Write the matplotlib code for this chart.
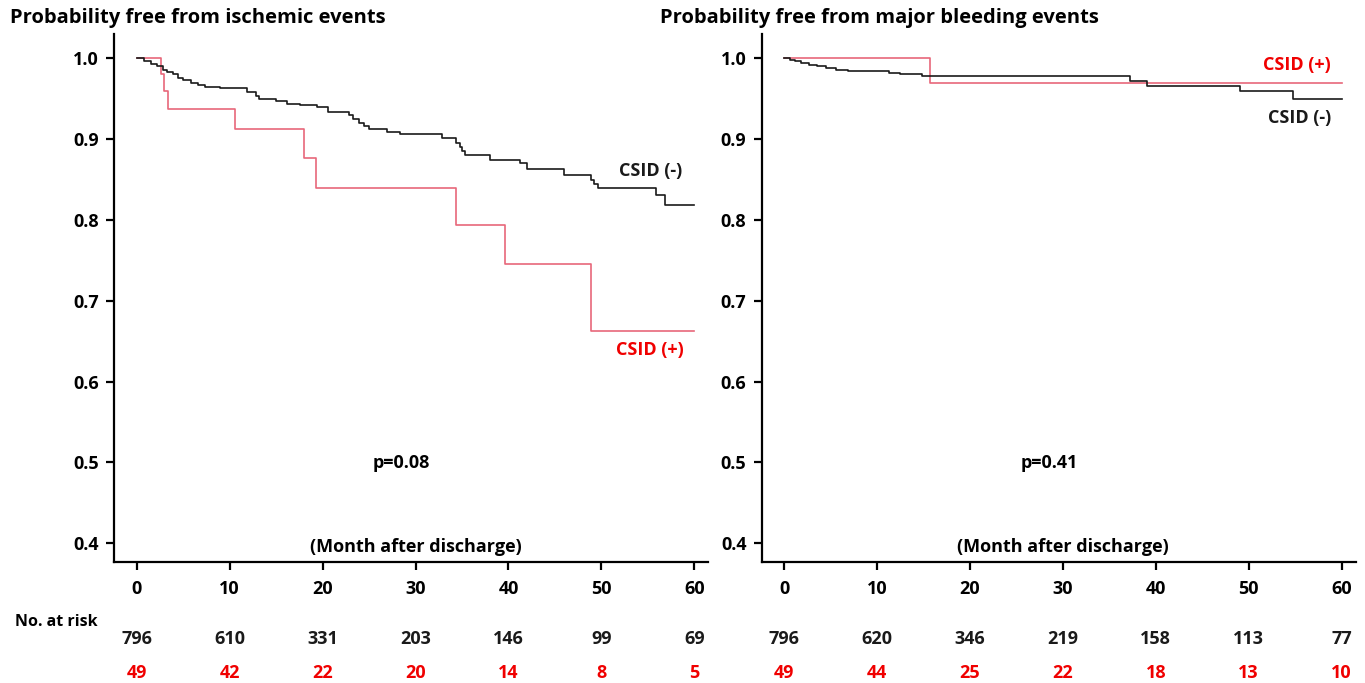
import matplotlib
matplotlib.use("Agg")
import matplotlib.pyplot as plt
from matplotlib.transforms import blended_transform_factory

plt.rcParams['font.family'] = ['Open Sans', 'DejaVu Sans']
plt.rcParams['font.weight'] = 'bold'

# ---------------- data ----------------
isch_neg_t = [0, 0.8, 1.5, 2.2, 2.8, 3.3, 3.9, 4.4, 5.0, 5.8, 6.6, 7.3, 9.0, 11.9, 12.8, 13.2,
              15.0, 16.2, 17.6, 19.4, 20.6, 22.8, 23.3, 23.9, 24.5, 25.0, 26.9, 28.3, 32.8,
              34.4, 34.8, 35.0, 35.3, 38.0, 41.2, 42.0, 46.0, 48.9, 49.2, 49.6, 55.9, 56.8, 60]
isch_neg_s = [1.0, 0.997, 0.993, 0.990, 0.986, 0.983, 0.980, 0.976, 0.973, 0.970, 0.967, 0.964, 0.963,
              0.958, 0.953, 0.950, 0.947, 0.944, 0.942, 0.940, 0.934, 0.930, 0.925, 0.920, 0.916,
              0.913, 0.909, 0.906, 0.901, 0.895, 0.890, 0.885, 0.880, 0.874, 0.870, 0.863, 0.855,
              0.849, 0.844, 0.839, 0.831, 0.819, 0.819]
isch_pos_t = [0, 2.6, 2.9, 3.4, 10.6, 18.0, 19.3, 34.4, 39.6, 48.9, 60]
isch_pos_s = [1.0, 0.980, 0.959, 0.937, 0.913, 0.877, 0.839, 0.794, 0.745, 0.662, 0.662]

bleed_neg_t = [0, 0.6, 1.2, 1.8, 2.7, 3.5, 4.5, 5.6, 6.9, 11.3, 12.5, 14.8, 37.2, 39.1, 49.1, 54.8, 60]
bleed_neg_s = [1.0, 0.998, 0.996, 0.994, 0.992, 0.990, 0.988, 0.986, 0.984, 0.982, 0.980, 0.978,
               0.972, 0.966, 0.960, 0.950, 0.950]
bleed_pos_t = [0, 15.75, 60]
bleed_pos_s = [1.0, 0.969, 0.969]

risk_months = [0, 10, 20, 30, 40, 50, 60]
isch_risk_neg = [796, 610, 331, 203, 146, 99, 69]
isch_risk_pos = [49, 42, 22, 20, 14, 8, 5]
bleed_risk_neg = [796, 620, 346, 219, 158, 113, 77]
bleed_risk_pos = [49, 44, 25, 22, 18, 13, 10]

titles = ["Probability free from ischemic events", "Probability free from major bleeding events"]
p_values = ["p=0.08", "p=0.41"]
yticks = [0.4, 0.5, 0.6, 0.7, 0.8, 0.9, 1.0]

# ---------------- layout ----------------
W, H = 1365, 683
fig = plt.figure(figsize=(W / 100, H / 100), dpi=100)

RED_LINE = '#E8677A'
RED_TXT = '#F00000'
BLACK = '#1a1a1a'
FS = 13.0

def px_axes(x0, x1, ytop, ybot):
    return fig.add_axes([x0 / W, 1 - ybot / H, (x1 - x0) / W, (ybot - ytop) / H])

axL = px_axes(114, 708, 34, 562.3)
axR = px_axes(761.7, 1356, 34, 562.3)

panels = [
    (axL, isch_neg_t, isch_neg_s, isch_pos_t, isch_pos_s, isch_risk_neg, isch_risk_pos,
     (-2.44, 61.47), [(55.25, 0.8606, "CSID (-)", BLACK), (55.25, 0.639, "CSID (+)", RED_TXT)], 10),
    (axR, bleed_neg_t, bleed_neg_s, bleed_pos_t, bleed_pos_s, bleed_risk_neg, bleed_risk_pos,
     (-2.40, 61.54), [(55.2, 0.9917, "CSID (+)", RED_TXT), (55.5, 0.926, "CSID (-)", BLACK)], 660),
]

for i, (ax, nt, ns, pt, ps, rn, rp, xl, labels, tx) in enumerate(panels):
    ax.step(nt, ns, where='post', color=BLACK, lw=1.2, zorder=3)
    ax.step(pt, ps, where='post', color=RED_LINE, lw=1.2, zorder=2)
    ax.set_xlim(*xl)
    ax.set_ylim(0.3765, 1.030)
    ax.set_xticks(risk_months)
    ax.set_yticks(yticks)
    ax.set_yticklabels([f"{v:.1f}" for v in yticks])
    for s in ['top', 'right']:
        ax.spines[s].set_visible(False)
    for s in ['left', 'bottom']:
        ax.spines[s].set_linewidth(1.6)
    ax.tick_params(axis='both', length=6, width=1.6, labelsize=FS, pad=5)
    ax.tick_params(axis='x', pad=7)
    for lab in ax.get_xticklabels() + ax.get_yticklabels():
        lab.set_fontweight('bold')
    for (x, y, s, c) in labels:
        ax.text(x, y, s, color=c, ha='center', va='center', fontsize=FS, fontweight='bold')
    ax.text(28.5, 0.4993, p_values[i], ha='center', va='center', fontsize=FS, fontweight='bold')
    ax.text(30.0, 0.3954, "(Month after discharge)", ha='center', va='center', fontsize=FS,
            fontweight='bold')
    fig.text(tx / W, 1 - 18 / H, titles[i], ha='left', va='center', fontsize=14.5, fontweight='bold')
    tr = blended_transform_factory(ax.transData, fig.transFigure)
    for m, a, b in zip(risk_months, rn, rp):
        ax.text(m, 1 - 639 / H, str(a), transform=tr, ha='center', va='center', fontsize=FS,
                fontweight='bold', color=BLACK, clip_on=False)
        ax.text(m, 1 - 673 / H, str(b), transform=tr, ha='center', va='center', fontsize=FS,
                fontweight='bold', color=RED_TXT, clip_on=False)

fig.text(15 / W, 1 - 622 / H, "No. at risk", ha='left', va='center', fontsize=11.5, fontweight='bold')

fig.savefig("out.png", dpi=100, facecolor='white')
